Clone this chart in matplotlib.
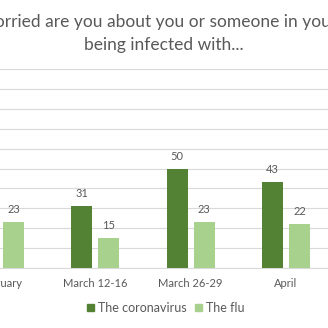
import numpy as np
import matplotlib
matplotlib.use("Agg")
import matplotlib.pyplot as plt
from matplotlib.patches import Rectangle

categories = ["February", "March 12-16", "March 26-29", "April"]
coronavirus = [np.nan, 31, 50, 43]
flu = [23, 15, 23, 22]
series_names = ["The coronavirus", "The flu"]

dark_green = "#548235"
light_green = "#A9D18E"
text_gray = "#595959"
grid_gray = "#D9D9D9"

plt.rcParams["font.family"] = ["Lato", "DejaVu Sans"]

fig = plt.figure(figsize=(3.28, 3.28), dpi=100)
ax = fig.add_axes([0.0, 1 - 268 / 328, 1.0, (268 - 69) / 328])

x = np.arange(len(categories))
w = 0.222
off = 0.142
for xi, v in zip(x, coronavirus):
    if np.isnan(v):
        continue
    ax.bar(xi - off, v, w, color=dark_green, zorder=3)
    ax.text(xi - off, v + 3.5, f"{v:g}", ha="center", va="bottom",
            fontsize=8, color=text_gray)
for xi, v in zip(x, flu):
    ax.bar(xi + off, v, w, color=light_green, zorder=3)
    ax.text(xi + off, v + 3.5, f"{v:g}", ha="center", va="bottom",
            fontsize=8, color=text_gray)

ax.set_xlim(0.049, 3.44)
ax.set_ylim(0, 100)
ax.set_yticks(np.arange(0, 101, 10))
ax.yaxis.grid(True, color=grid_gray, linewidth=0.8, zorder=0)
ax.tick_params(axis="y", left=False, labelleft=False)
ax.set_xticks(x)
ax.set_xticklabels(categories, fontsize=8, color=text_gray)
ax.tick_params(axis="x", length=0, pad=7)
for s in ["top", "right", "left"]:
    ax.spines[s].set_visible(False)
ax.spines["bottom"].set_color(grid_gray)
ax.spines["bottom"].set_linewidth(0.8)
ax.set_facecolor("white")

fig.text(0.50, 1 - 22 / 328,
         "How worried are you about you or someone in your family",
         ha="center", va="center", fontsize=12.5, color=text_gray)
fig.text(0.5, 1 - 45 / 328, "being infected with...",
         ha="center", va="center", fontsize=12.5, color=text_gray)

handles = [Rectangle((0, 0), 1, 1, color=dark_green),
           Rectangle((0, 0), 1, 1, color=light_green)]
fig.legend(handles, series_names, loc="center", bbox_to_anchor=(0.506, 1 - 308 / 328),
           ncol=2, frameon=False, fontsize=9, handlelength=0.55, handleheight=0.55,
           handletextpad=0.3, columnspacing=0.7, labelcolor=text_gray)

fig.savefig("out.png", dpi=100, facecolor="white")
